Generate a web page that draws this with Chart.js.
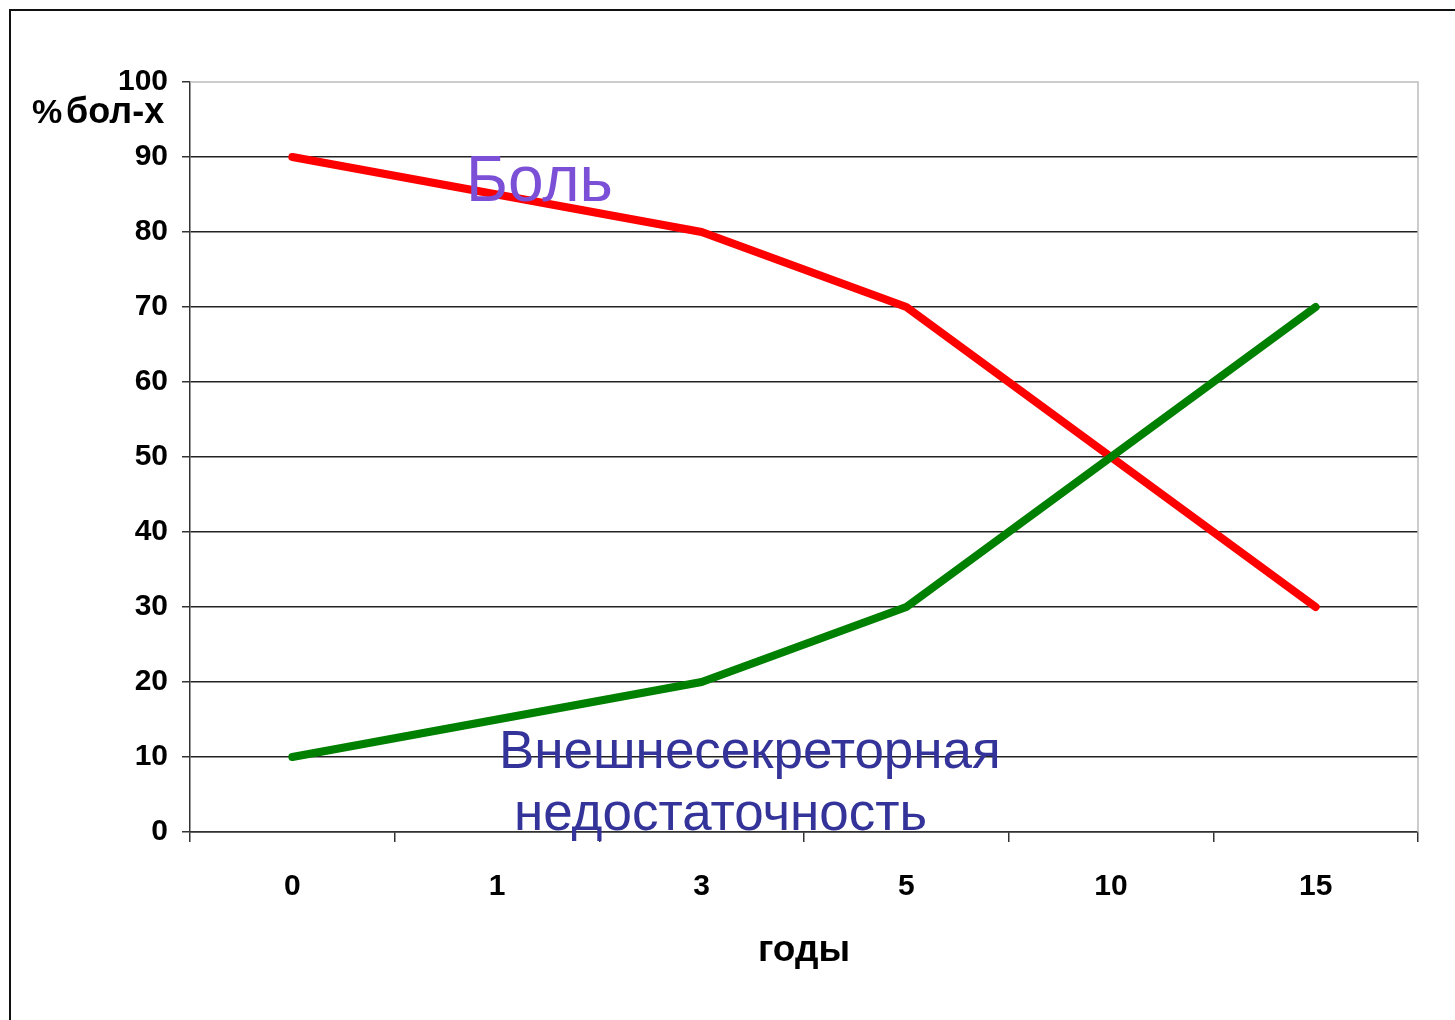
<!DOCTYPE html>
<html>
<head>
<meta charset="utf-8">
<script src="https://cdn.jsdelivr.net/npm/chart.js@4.4.1/dist/chart.umd.min.js"></script>
<style>
  html, body { margin: 0; padding: 0; background: #ffffff; }
  #wrap { width: 1455px; height: 1020px; position: relative; }
</style>
</head>
<body>
<div id="wrap"><canvas id="chart" width="1455" height="1020"></canvas></div>
<script>
// Years since onset
const years = ['0', '1', '3', '5', '10', '15'];
// Share of patients with pain, %
const painValues = [90, 85, 80, 70, 50, 30];
// Share of patients with exocrine insufficiency, %
const insufficiencyValues = [10, 15, 20, 30, 50, 70];
// Y axis ticks
const yTicks = [0, 10, 20, 30, 40, 50, 60, 70, 80, 90, 100];

const FONT = '"Liberation Sans", Arial, sans-serif';

// Outer frame, light plot border and free text labels
const decorations = {
  id: 'decorations',
  beforeDraw(chart) {
    const { ctx } = chart;
    ctx.save();
    ctx.fillStyle = '#ffffff';
    ctx.fillRect(0, 0, chart.width, chart.height);
    ctx.strokeStyle = '#111111';
    ctx.lineWidth = 2;
    ctx.beginPath();
    ctx.moveTo(10, chart.height + 5);
    ctx.lineTo(10, 10);
    ctx.lineTo(chart.width + 5, 10);
    ctx.stroke();
    ctx.restore();
  },
  beforeDatasetsDraw(chart) {
    const { ctx, chartArea: a } = chart;
    ctx.save();
    ctx.strokeStyle = '#bdbdbd';
    ctx.lineWidth = 1.5;
    ctx.beginPath();
    ctx.moveTo(a.left, a.top);
    ctx.lineTo(a.right, a.top);
    ctx.lineTo(a.right, a.bottom);
    ctx.stroke();
    ctx.restore();
  },
  afterDatasetsDraw(chart) {
    const { ctx } = chart;
    ctx.save();
    ctx.textBaseline = 'alphabetic';
    ctx.textAlign = 'left';
    ctx.fillStyle = '#7b4fd6';
    ctx.font = '64px ' + FONT;
    ctx.fillText('Боль', 466, 201);
    ctx.fillStyle = '#333399';
    ctx.font = '53px ' + FONT;
    ctx.fillText('Внешнесекреторная', 499, 768);
    ctx.fillText('недостаточность', 514, 830);
    // y axis unit label
    ctx.fillStyle = '#000000';
    ctx.font = 'bold 34px ' + FONT;
    ctx.fillText('%', 32, 123);
    ctx.font = 'bold 36px ' + FONT;
    ctx.fillText('бол-х', 66, 123);
    ctx.restore();
  }
};

new Chart(document.getElementById('chart'), {
  type: 'line',
  data: {
    labels: years,
    datasets: [
      {
        label: 'Боль',
        data: painValues,
        borderColor: '#ff0000',
        borderWidth: 8,
        borderCapStyle: 'round',
        borderJoinStyle: 'round',
        pointRadius: 0,
        tension: 0,
        order: 2
      },
      {
        label: 'Внешнесекреторная недостаточность',
        data: insufficiencyValues,
        borderColor: '#008000',
        borderWidth: 8,
        borderCapStyle: 'round',
        borderJoinStyle: 'round',
        pointRadius: 0,
        tension: 0,
        order: 1
      }
    ]
  },
  options: {
    responsive: false,
    animation: false,
    devicePixelRatio: 1,
    layout: { padding: { top: 82, right: 37, left: 0, bottom: 0 } },
    plugins: {
      legend: { display: false },
      tooltip: { enabled: false }
    },
    scales: {
      x: {
        type: 'category',
        offset: true,
        afterFit(scale) { scale.height = 188; },
        grid: {
          offset: true,
          drawOnChartArea: false,
          drawTicks: true,
          tickLength: 10,
          color: '#333333',
          lineWidth: 1.5
        },
        border: { display: true, color: '#333333', width: 1.5 },
        ticks: {
          color: '#000000',
          font: { family: FONT, size: 30, weight: 'bold' },
          padding: 27,
          maxRotation: 0
        },
        title: {
          display: true,
          text: 'годы',
          color: '#000000',
          font: { family: FONT, size: 37, weight: 'bold' },
          padding: { top: 0, bottom: 47 }
        }
      },
      y: {
        min: 0,
        max: 100,
        afterFit(scale) { scale.width = 190; },
        afterBuildTicks(scale) { scale.ticks = yTicks.map(v => ({ value: v })); },
        grid: {
          color: (c) => c.tick && c.tick.value === 100 ? 'rgba(0,0,0,0)' : '#222222',
          tickColor: '#333333',
          lineWidth: 1.5,
          tickLength: 8
        },
        border: { display: true, color: '#333333', width: 1.5 },
        ticks: {
          color: '#000000',
          font: { family: FONT, size: 30, weight: 'bold' },
          padding: 14
        }
      }
    }
  },
  plugins: [decorations]
});
</script>
</body>
</html>
